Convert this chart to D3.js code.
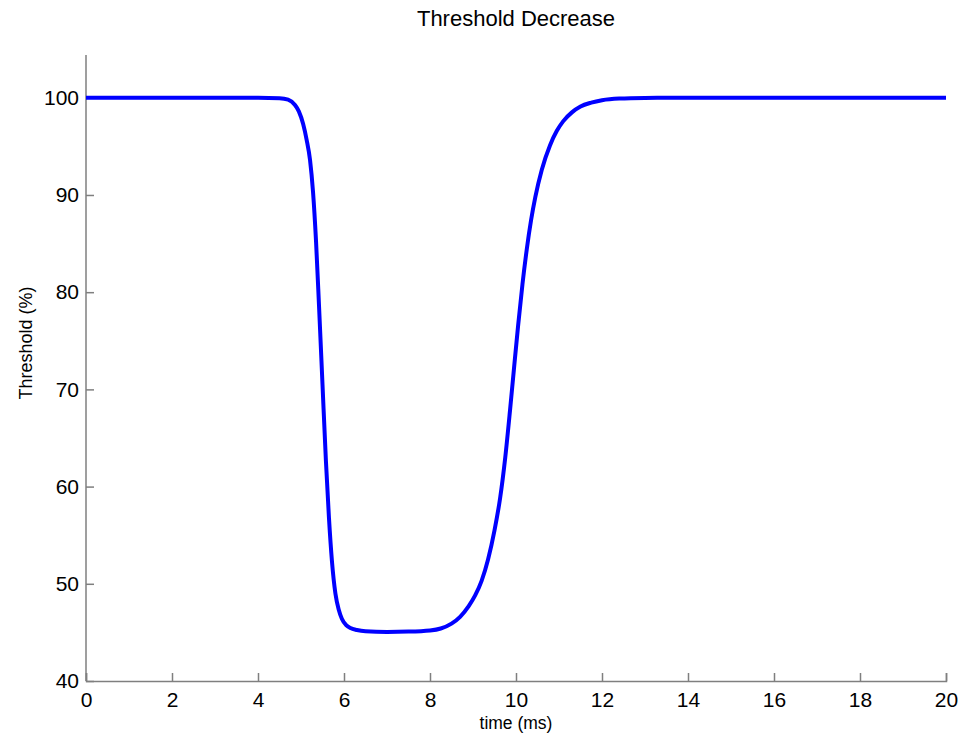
<!DOCTYPE html>
<html>
<head>
<meta charset="utf-8">
<script src="https://cdn.jsdelivr.net/npm/d3@7"></script>
<style>
  body { margin: 0; background: #fff; }
  text { font-family: "Liberation Sans", Arial, sans-serif; }
</style>
</head>
<body>
<div id="chart"></div>
<script>
// time values (ms)
const timeMs = [0, 2, 4, 4.5, 4.7, 4.86, 4.95, 5.05, 5.13, 5.21, 5.28, 5.35, 5.42, 5.5,
  5.58, 5.65, 5.72, 5.8, 5.88, 5.95, 6.05, 6.15, 6.3, 6.5, 7.0, 7.5, 8.0, 8.25, 8.5, 8.7,
  8.9, 9.05, 9.2, 9.35, 9.5, 9.63, 9.75, 9.86, 9.95, 10.05, 10.15, 10.25, 10.35, 10.45,
  10.6, 10.79, 10.95, 11.1, 11.3, 11.5, 11.75, 12.0, 12.4, 13, 14, 20];

// threshold (%) at those times
const thresholdPct = [100, 100, 100, 99.95, 99.8, 99.25, 98.6, 97.3, 95.7, 93.6, 90.3, 85.2, 78.5, 70.5,
  62.6, 56.8, 52.3, 49.0, 47.3, 46.4, 45.75, 45.45, 45.25, 45.12, 45.05, 45.08, 45.2, 45.4, 45.9, 46.6,
  47.7, 48.8, 50.3, 52.5, 55.5, 58.8, 63, 67.8, 72, 76.6, 80.8, 84.4, 87.4, 89.8,
  92.6, 95.1, 96.6, 97.6, 98.5, 99.1, 99.5, 99.75, 99.92, 99.98, 100, 100];

const xTicks = [0, 2, 4, 6, 8, 10, 12, 14, 16, 18, 20];
const yTicks = [40, 50, 60, 70, 80, 90, 100];

const data = timeMs.map((t, i) => ({ t: t, v: thresholdPct[i] }));

const width = 964;
const height = 738;
const margin = { top: 55, right: 18, bottom: 57, left: 86 };

const svg = d3.select("#chart")
  .append("svg")
  .attr("width", width)
  .attr("height", height);

const xScale = d3.scaleLinear()
  .domain([0, 20])
  .range([margin.left, width - margin.right]);

const yScale = d3.scaleLinear()
  .domain([40, 104.4])
  .range([height - margin.bottom, margin.top]);

const axisColor = "#7f7f7f";

// x axis, ticks pointing inward
const xAxis = svg.append("g")
  .attr("transform", `translate(0,${height - margin.bottom})`)
  .call(d3.axisBottom(xScale).tickValues(xTicks).tickSizeInner(-8).tickSizeOuter(-8).tickPadding(11));

// y axis, ticks pointing inward
const yAxis = svg.append("g")
  .attr("transform", `translate(${margin.left},0)`)
  .call(d3.axisLeft(yScale).tickValues(yTicks).tickSizeInner(-8).tickSizeOuter(0).tickPadding(7));

[xAxis, yAxis].forEach(g => {
  g.select(".domain").attr("stroke", axisColor).attr("stroke-width", 1.5);
  g.selectAll(".tick line").attr("stroke", axisColor).attr("stroke-width", 1.5);
  g.selectAll(".tick text")
    .attr("fill", "#000")
    .style("font-size", "21px")
    .style("font-family", "'Liberation Sans', Arial, sans-serif");
});

// the y axis domain should not draw an outer tick at the top
yAxis.select(".domain").attr("d", `M0,${margin.top}V${height - margin.bottom}`);

// the curve
const line = d3.line()
  .x(d => xScale(d.t))
  .y(d => yScale(d.v))
  .curve(d3.curveMonotoneX);

svg.append("path")
  .datum(data)
  .attr("fill", "none")
  .attr("stroke", "#0000ff")
  .attr("stroke-width", 4)
  .attr("stroke-linejoin", "round")
  .attr("d", line);

// title
svg.append("text")
  .attr("x", (margin.left + width - margin.right) / 2)
  .attr("y", 26)
  .attr("text-anchor", "middle")
  .style("font-size", "22px")
  .text("Threshold Decrease");

// x label
svg.append("text")
  .attr("x", (margin.left + width - margin.right) / 2)
  .attr("y", 729)
  .attr("text-anchor", "middle")
  .style("font-size", "17.5px")
  .text("time (ms)");

// y label
svg.append("text")
  .attr("transform", `translate(32,${(margin.top + height - margin.bottom) / 2 - 25}) rotate(-90)`)
  .attr("text-anchor", "middle")
  .style("font-size", "18px")
  .text("Threshold (%)");
</script>
</body>
</html>
